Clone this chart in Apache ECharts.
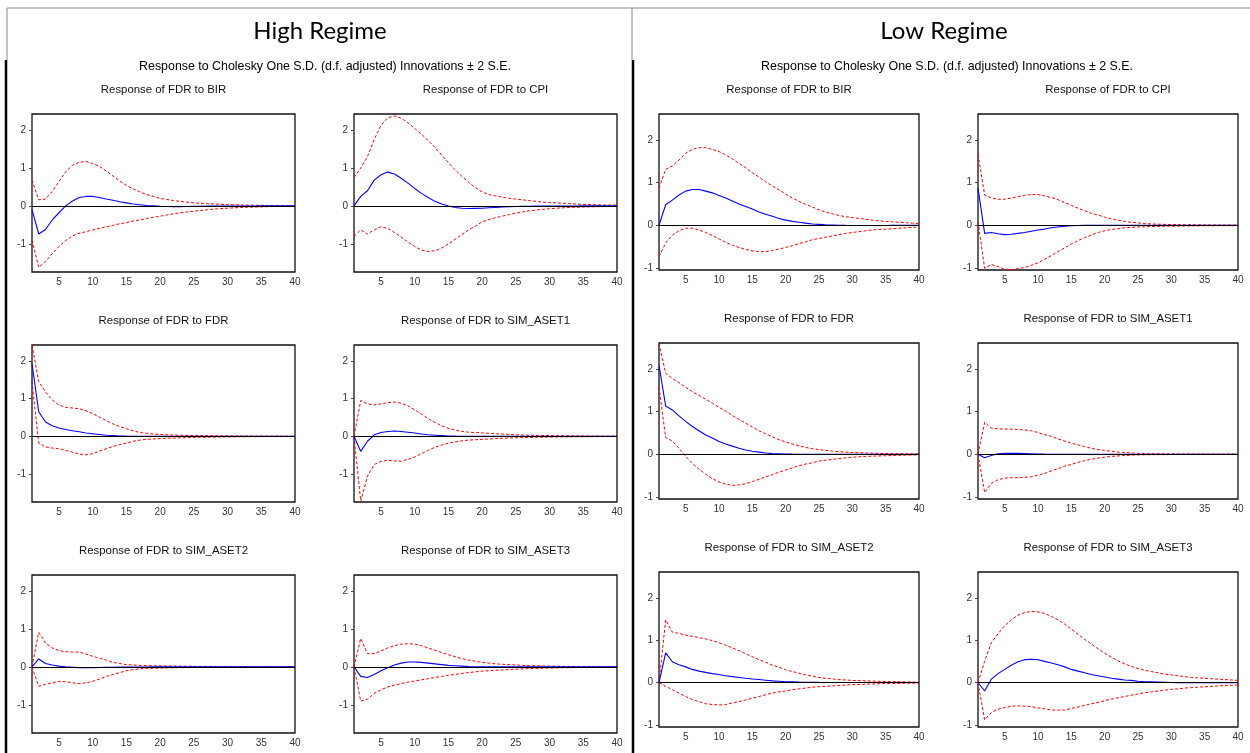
<!DOCTYPE html>
<html>
<head>
<meta charset="utf-8">
<script src="https://cdn.jsdelivr.net/npm/echarts@6/dist/echarts.min.js"></script>
<style>
html, body { margin: 0; padding: 0; background: #fff; }
#irf { width: 1250px; height: 753px; }
</style>
</head>
<body>
<div id="irf"></div>
<script>
// periods of the impulse responses
var periods = [1,2,3,4,5,6,7,8,9,10,11,12,13,14,15,16,17,18,19,20,21,22,23,24,25,26,27,28,29,30,31,32,33,34,35,36,37,38,39,40];
var xTicks = [5,10,15,20,25,30,35,40];
var yTicks = [-1,0,1,2];

// High regime
var hiBirResp = [-0.1,-0.74,-0.62,-0.37,-0.18,0,0.13,0.22,0.25,0.25,0.22,0.18,0.15,0.11,0.08,0.05,0.03,0.01,0,-0.01,-0.015,-0.02,-0.02,-0.015,-0.01,-0.008,-0.006,-0.005,-0.004,-0.003,-0.002,-0.002,-0.001,-0.001,0,0,0,0,0,0];
var hiBirUp = [0.68,0.16,0.18,0.38,0.64,0.9,1.07,1.15,1.17,1.12,1.04,0.92,0.79,0.66,0.54,0.45,0.37,0.3,0.25,0.2,0.17,0.14,0.12,0.1,0.08,0.07,0.06,0.05,0.04,0.035,0.03,0.025,0.02,0.018,0.015,0.012,0.01,0.008,0.006,0.005];
var hiBirLo = [-0.9,-1.62,-1.46,-1.26,-1.07,-0.91,-0.79,-0.72,-0.68,-0.63,-0.59,-0.55,-0.51,-0.47,-0.44,-0.4,-0.37,-0.33,-0.3,-0.27,-0.24,-0.21,-0.18,-0.16,-0.14,-0.12,-0.1,-0.085,-0.07,-0.06,-0.05,-0.04,-0.035,-0.03,-0.025,-0.02,-0.015,-0.012,-0.01,-0.008];

var hiCpiResp = [0,0.25,0.4,0.68,0.82,0.89,0.84,0.73,0.6,0.46,0.33,0.22,0.12,0.05,0,-0.04,-0.06,-0.07,-0.065,-0.06,-0.05,-0.04,-0.03,-0.02,-0.015,-0.01,-0.008,-0.006,-0.004,-0.003,-0.002,-0.002,-0.001,-0.001,0,0,0,0,0,0];
var hiCpiUp = [0.75,1.0,1.3,1.75,2.12,2.32,2.37,2.31,2.19,2.04,1.89,1.72,1.54,1.34,1.14,0.95,0.78,0.62,0.48,0.37,0.3,0.26,0.23,0.2,0.18,0.16,0.14,0.12,0.1,0.09,0.08,0.07,0.06,0.05,0.04,0.035,0.03,0.025,0.02,0.02];
var hiCpiLo = [-0.8,-0.63,-0.74,-0.63,-0.55,-0.59,-0.7,-0.82,-0.95,-1.07,-1.16,-1.2,-1.18,-1.11,-1.0,-0.88,-0.75,-0.63,-0.53,-0.42,-0.36,-0.31,-0.27,-0.23,-0.19,-0.16,-0.13,-0.11,-0.09,-0.075,-0.06,-0.05,-0.04,-0.035,-0.03,-0.025,-0.02,-0.018,-0.015,-0.013];

var hiFdrResp = [1.93,0.65,0.38,0.28,0.22,0.18,0.15,0.12,0.09,0.07,0.05,0.03,0.02,0.01,0.005,0.002,0,0,0,0,0,0,0,0,0,0,0,0,0,0,0,0,0,0,0,0,0,0,0,0];
var hiFdrUp = [2.42,1.45,1.18,0.96,0.83,0.77,0.75,0.73,0.68,0.6,0.51,0.42,0.33,0.26,0.2,0.15,0.1,0.08,0.06,0.05,0.04,0.035,0.03,0.025,0.02,0.018,0.016,0.014,0.012,0.01,0.009,0.008,0.007,0.006,0.006,0.005,0.005,0.004,0.004,0.003];
var hiFdrLo = [1.45,-0.18,-0.28,-0.31,-0.33,-0.37,-0.42,-0.47,-0.49,-0.46,-0.39,-0.33,-0.27,-0.22,-0.18,-0.13,-0.1,-0.08,-0.07,-0.06,-0.05,-0.045,-0.04,-0.035,-0.03,-0.025,-0.022,-0.019,-0.016,-0.014,-0.012,-0.01,-0.009,-0.008,-0.007,-0.006,-0.006,-0.005,-0.005,-0.004];

var hiAs1Resp = [0,-0.4,-0.13,0.04,0.1,0.13,0.14,0.13,0.11,0.09,0.06,0.04,0.03,0.02,0.01,0.005,0.002,0,0,0,0,0,0,0,0,0,0,0,0,0,0,0,0,0,0,0,0,0,0,0];
var hiAs1Up = [0,0.95,0.86,0.83,0.86,0.89,0.91,0.88,0.81,0.7,0.59,0.47,0.37,0.28,0.21,0.17,0.13,0.11,0.1,0.09,0.08,0.07,0.06,0.05,0.04,0.035,0.03,0.026,0.022,0.019,0.016,0.014,0.012,0.01,0.009,0.008,0.007,0.006,0.005,0.005];
var hiAs1Lo = [0,-1.72,-1.05,-0.75,-0.66,-0.64,-0.65,-0.66,-0.61,-0.55,-0.46,-0.37,-0.29,-0.23,-0.18,-0.15,-0.12,-0.1,-0.09,-0.08,-0.07,-0.06,-0.05,-0.045,-0.04,-0.035,-0.03,-0.026,-0.022,-0.019,-0.016,-0.014,-0.012,-0.01,-0.009,-0.008,-0.007,-0.006,-0.005,-0.005];

var hiAs2Resp = [0,0.21,0.09,0.05,0.02,0,-0.01,-0.02,-0.02,-0.02,-0.015,-0.01,-0.008,-0.006,-0.004,-0.003,-0.002,-0.001,0,0,0,0,0,0,0,0,0,0,0,0,0,0,0,0,0,0,0,0,0,0];
var hiAs2Up = [0,0.91,0.63,0.5,0.43,0.4,0.39,0.39,0.34,0.28,0.23,0.18,0.12,0.09,0.06,0.05,0.04,0.035,0.03,0.03,0.025,0.022,0.02,0.018,0.016,0.014,0.012,0.011,0.01,0.009,0.008,0.007,0.006,0.006,0.005,0.005,0.004,0.004,0.003,0.003];
var hiAs2Lo = [0,-0.51,-0.46,-0.42,-0.38,-0.39,-0.42,-0.44,-0.42,-0.38,-0.32,-0.25,-0.2,-0.15,-0.1,-0.07,-0.05,-0.04,-0.035,-0.03,-0.025,-0.022,-0.02,-0.018,-0.016,-0.014,-0.012,-0.011,-0.01,-0.009,-0.008,-0.007,-0.006,-0.006,-0.005,-0.005,-0.004,-0.004,-0.003,-0.003];

var hiAs3Resp = [0,-0.25,-0.28,-0.2,-0.1,-0.02,0.05,0.1,0.13,0.13,0.12,0.1,0.08,0.06,0.04,0.03,0.02,0.01,0.005,0.002,0,0,0,0,0,0,0,0,0,0,0,0,0,0,0,0,0,0,0,0];
var hiAs3Up = [0,0.75,0.35,0.35,0.42,0.5,0.56,0.6,0.61,0.6,0.56,0.5,0.44,0.38,0.32,0.27,0.22,0.18,0.15,0.12,0.1,0.08,0.07,0.06,0.05,0.04,0.035,0.03,0.025,0.02,0.018,0.015,0.013,0.011,0.01,0.009,0.008,0.007,0.006,0.005];
var hiAs3Lo = [0,-0.9,-0.85,-0.7,-0.6,-0.53,-0.48,-0.44,-0.4,-0.37,-0.34,-0.31,-0.28,-0.25,-0.22,-0.2,-0.17,-0.15,-0.13,-0.11,-0.1,-0.09,-0.08,-0.07,-0.06,-0.05,-0.045,-0.04,-0.035,-0.03,-0.026,-0.022,-0.019,-0.016,-0.014,-0.012,-0.01,-0.009,-0.008,-0.007];

// Low regime
var loBirResp = [0,0.48,0.59,0.71,0.8,0.84,0.84,0.8,0.76,0.7,0.64,0.57,0.5,0.44,0.38,0.31,0.26,0.21,0.16,0.12,0.09,0.07,0.05,0.03,0.02,0.01,0.005,0,-0.003,-0.005,-0.006,-0.006,-0.006,-0.005,-0.005,-0.004,-0.003,-0.003,-0.002,-0.002];
var loBirUp = [0.87,1.31,1.39,1.53,1.69,1.78,1.82,1.82,1.78,1.73,1.65,1.56,1.45,1.35,1.23,1.13,1.02,0.92,0.83,0.73,0.64,0.56,0.49,0.43,0.36,0.31,0.27,0.23,0.2,0.18,0.16,0.14,0.12,0.1,0.09,0.08,0.07,0.06,0.05,0.04];
var loBirLo = [-0.73,-0.42,-0.23,-0.13,-0.07,-0.07,-0.11,-0.17,-0.24,-0.32,-0.4,-0.47,-0.52,-0.57,-0.6,-0.62,-0.62,-0.59,-0.56,-0.52,-0.48,-0.43,-0.39,-0.34,-0.31,-0.28,-0.25,-0.22,-0.19,-0.17,-0.15,-0.13,-0.11,-0.1,-0.09,-0.08,-0.07,-0.06,-0.05,-0.04];

var loCpiResp = [0.87,-0.19,-0.17,-0.2,-0.22,-0.21,-0.19,-0.17,-0.14,-0.11,-0.09,-0.06,-0.04,-0.02,-0.01,-0.005,-0.002,0,0,0,0,0,0,0,0,0,0,0,0,0,0,0,0,0,0,0,0,0,0,0];
var loCpiUp = [1.66,0.71,0.64,0.61,0.61,0.64,0.67,0.7,0.72,0.72,0.69,0.65,0.6,0.53,0.47,0.4,0.34,0.28,0.24,0.19,0.15,0.12,0.09,0.07,0.055,0.04,0.03,0.025,0.02,0.015,0.013,0.011,0.01,0.009,0.008,0.007,0.006,0.006,0.005,0.005];
var loCpiLo = [0.08,-1.01,-0.92,-0.97,-1.03,-1.04,-1.02,-0.99,-0.94,-0.88,-0.8,-0.71,-0.62,-0.53,-0.44,-0.36,-0.29,-0.23,-0.17,-0.13,-0.1,-0.08,-0.06,-0.05,-0.04,-0.035,-0.03,-0.026,-0.023,-0.02,-0.018,-0.016,-0.014,-0.013,-0.012,-0.011,-0.01,-0.01,-0.01,-0.01];

var loFdrResp = [2.09,1.13,1.04,0.9,0.77,0.65,0.55,0.45,0.38,0.3,0.24,0.19,0.14,0.1,0.07,0.05,0.03,0.015,0.01,0.005,0.002,0,0,0,0,0,0,0,0,0,0,0,0,0,0,0,0,0,0,0];
var loFdrUp = [2.6,1.9,1.78,1.68,1.57,1.47,1.38,1.29,1.2,1.1,1.01,0.91,0.82,0.73,0.64,0.55,0.48,0.41,0.34,0.29,0.24,0.2,0.16,0.13,0.11,0.09,0.075,0.06,0.05,0.04,0.035,0.03,0.025,0.02,0.018,0.015,0.012,0.01,0.01,0.008];
var loFdrLo = [1.58,0.39,0.31,0.14,-0.05,-0.21,-0.35,-0.47,-0.57,-0.65,-0.7,-0.73,-0.72,-0.69,-0.64,-0.59,-0.53,-0.48,-0.42,-0.37,-0.32,-0.27,-0.23,-0.2,-0.16,-0.14,-0.12,-0.1,-0.085,-0.07,-0.06,-0.05,-0.045,-0.04,-0.035,-0.03,-0.025,-0.02,-0.018,-0.015];

var loAs1Resp = [0,-0.08,-0.03,0.01,0.02,0.02,0.02,0.015,0.01,0.005,0.002,0,0,0,0,0,0,0,0,0,0,0,0,0,0,0,0,0,0,0,0,0,0,0,0,0,0,0,0,0];
var loAs1Up = [0,0.75,0.61,0.6,0.59,0.59,0.58,0.57,0.55,0.51,0.46,0.42,0.36,0.31,0.26,0.22,0.18,0.14,0.11,0.09,0.07,0.05,0.04,0.03,0.02,0.015,0.012,0.01,0.009,0.008,0.007,0.006,0.005,0.005,0.004,0.004,0.003,0.003,0.003,0.003];
var loAs1Lo = [0,-0.9,-0.68,-0.6,-0.56,-0.55,-0.55,-0.54,-0.53,-0.49,-0.45,-0.39,-0.34,-0.28,-0.24,-0.19,-0.15,-0.12,-0.09,-0.07,-0.05,-0.04,-0.03,-0.02,-0.015,-0.012,-0.01,-0.009,-0.008,-0.007,-0.006,-0.005,-0.005,-0.004,-0.004,-0.003,-0.003,-0.003,-0.003,-0.003];

var loAs2Resp = [0,0.7,0.49,0.42,0.37,0.31,0.27,0.24,0.21,0.19,0.16,0.14,0.12,0.1,0.085,0.07,0.055,0.04,0.03,0.02,0.015,0.01,0.007,0.005,0.003,0.002,0.001,0,0,0,0,0,0,0,0,0,0,0,0,0];
var loAs2Up = [0,1.48,1.19,1.16,1.12,1.09,1.06,1.03,0.99,0.94,0.88,0.82,0.75,0.68,0.61,0.54,0.48,0.41,0.36,0.3,0.26,0.22,0.18,0.15,0.12,0.1,0.085,0.07,0.06,0.05,0.045,0.04,0.035,0.03,0.025,0.02,0.018,0.015,0.012,0.01];
var loAs2Lo = [0,-0.09,-0.17,-0.25,-0.33,-0.4,-0.45,-0.5,-0.52,-0.53,-0.52,-0.48,-0.45,-0.41,-0.37,-0.33,-0.29,-0.25,-0.22,-0.2,-0.17,-0.15,-0.13,-0.11,-0.1,-0.09,-0.08,-0.07,-0.06,-0.05,-0.045,-0.04,-0.035,-0.03,-0.025,-0.022,-0.02,-0.018,-0.015,-0.013];

var loAs3Resp = [0,-0.2,0.08,0.21,0.31,0.41,0.49,0.54,0.55,0.54,0.5,0.46,0.42,0.37,0.31,0.27,0.23,0.19,0.16,0.13,0.1,0.08,0.06,0.05,0.03,0.02,0.015,0.01,0.005,0,-0.002,-0.004,-0.005,-0.006,-0.006,-0.006,-0.006,-0.005,-0.005,-0.005];
var loAs3Up = [0,0.5,0.94,1.15,1.34,1.48,1.59,1.65,1.68,1.67,1.63,1.56,1.48,1.38,1.26,1.14,1.02,0.91,0.8,0.69,0.6,0.51,0.44,0.38,0.33,0.29,0.26,0.23,0.2,0.18,0.16,0.14,0.12,0.11,0.1,0.09,0.08,0.07,0.06,0.05];
var loAs3Lo = [0,-0.88,-0.71,-0.63,-0.59,-0.56,-0.55,-0.56,-0.57,-0.6,-0.62,-0.65,-0.65,-0.65,-0.61,-0.58,-0.54,-0.5,-0.47,-0.43,-0.39,-0.36,-0.33,-0.3,-0.27,-0.24,-0.22,-0.2,-0.18,-0.16,-0.15,-0.13,-0.12,-0.11,-0.1,-0.09,-0.08,-0.07,-0.065,-0.06];

var hiRange = [-1.74, 2.42];
var loRange = [-1.05, 2.61];

// one entry per small plot: where it sits and what it shows
var plots = [
    { title: 'Response of FDR to BIR', x: 32, y: 114, w: 263, h: 158, r: hiRange, d: [hiBirResp, hiBirUp, hiBirLo] },
    { title: 'Response of FDR to CPI', x: 354, y: 114, w: 263, h: 158, r: hiRange, d: [hiCpiResp, hiCpiUp, hiCpiLo] },
    { title: 'Response of FDR to FDR', x: 32, y: 345, w: 263, h: 157, r: hiRange, d: [hiFdrResp, hiFdrUp, hiFdrLo] },
    { title: 'Response of FDR to SIM_ASET1', x: 354, y: 345, w: 263, h: 157, r: hiRange, d: [hiAs1Resp, hiAs1Up, hiAs1Lo] },
    { title: 'Response of FDR to SIM_ASET2', x: 32, y: 575, w: 263, h: 158, r: hiRange, d: [hiAs2Resp, hiAs2Up, hiAs2Lo] },
    { title: 'Response of FDR to SIM_ASET3', x: 354, y: 575, w: 263, h: 158, r: hiRange, d: [hiAs3Resp, hiAs3Up, hiAs3Lo] },
    { title: 'Response of FDR to BIR', x: 659, y: 114, w: 260, h: 156, r: loRange, d: [loBirResp, loBirUp, loBirLo] },
    { title: 'Response of FDR to CPI', x: 978, y: 114, w: 260, h: 156, r: loRange, d: [loCpiResp, loCpiUp, loCpiLo] },
    { title: 'Response of FDR to FDR', x: 659, y: 343, w: 260, h: 156, r: loRange, d: [loFdrResp, loFdrUp, loFdrLo] },
    { title: 'Response of FDR to SIM_ASET1', x: 978, y: 343, w: 260, h: 156, r: loRange, d: [loAs1Resp, loAs1Up, loAs1Lo] },
    { title: 'Response of FDR to SIM_ASET2', x: 659, y: 572, w: 260, h: 155, r: loRange, d: [loAs2Resp, loAs2Up, loAs2Lo] },
    { title: 'Response of FDR to SIM_ASET3', x: 978, y: 572, w: 260, h: 155, r: loRange, d: [loAs3Resp, loAs3Up, loAs3Lo] }
];

function pairs(vals) {
    return periods.map(function (p, i) { return [p, vals[i]]; });
}

var labelFont = { fontFamily: 'Liberation Sans', fontSize: 10, color: '#333' };

var grids = [], xAxes = [], yAxes = [], series = [], texts = [];

plots.forEach(function (p, i) {
    grids.push({
        left: p.x, top: p.y, width: p.w, height: p.h,
        show: true, borderColor: '#111', borderWidth: 1.3, backgroundColor: '#fff'
    });
    xAxes.push({
        type: 'value', gridIndex: i, min: 1, max: 40,
        axisLine: { show: false }, axisTick: { show: false }, splitLine: { show: false },
        axisLabel: Object.assign({ customValues: xTicks, margin: 5 }, labelFont)
    });
    yAxes.push({
        type: 'value', gridIndex: i, min: p.r[0], max: p.r[1],
        axisLine: { show: false }, splitLine: { show: false },
        axisTick: { show: true, customValues: yTicks, length: 3, lineStyle: { color: '#444' } },
        axisLabel: Object.assign({ customValues: yTicks, margin: 6 }, labelFont)
    });
    series.push({
        type: 'line', xAxisIndex: i, yAxisIndex: i, data: pairs(p.d[1]),
        showSymbol: false, silent: true, z: 3,
        lineStyle: { color: '#ff0000', width: 1, type: [3, 2] }
    });
    series.push({
        type: 'line', xAxisIndex: i, yAxisIndex: i, data: pairs(p.d[2]),
        showSymbol: false, silent: true, z: 3,
        lineStyle: { color: '#ff0000', width: 1, type: [3, 2] }
    });
    series.push({
        type: 'line', xAxisIndex: i, yAxisIndex: i, data: pairs(p.d[0]),
        showSymbol: false, silent: true, z: 4,
        lineStyle: { color: '#0000ff', width: 1.1 },
        markLine: {
            silent: true, symbol: 'none', label: { show: false },
            lineStyle: { color: '#000', width: 1, type: 'solid' },
            data: [{ yAxis: 0 }]
        }
    });
    texts.push({
        type: 'text', x: p.x + p.w / 2, y: p.y - 24,
        style: { text: p.title, fontFamily: 'Liberation Sans', fontSize: 11.4, fill: '#111', textAlign: 'center', textVerticalAlign: 'middle' }
    });
});

var subTitle = 'Response to Cholesky One S.D. (d.f. adjusted) Innovations \u00b1 2 S.E.';

var frame = [
    { type: 'line', shape: { x1: 7, y1: 8, x2: 1250, y2: 8 }, style: { stroke: '#888', lineWidth: 1 } },
    { type: 'line', shape: { x1: 7, y1: 8, x2: 7, y2: 60 }, style: { stroke: '#888', lineWidth: 1 } },
    { type: 'line', shape: { x1: 6, y1: 60, x2: 6, y2: 753 }, style: { stroke: '#000', lineWidth: 2.5 } },
    { type: 'line', shape: { x1: 632, y1: 8, x2: 632, y2: 60 }, style: { stroke: '#888', lineWidth: 1 } },
    { type: 'line', shape: { x1: 633, y1: 60, x2: 633, y2: 753 }, style: { stroke: '#000', lineWidth: 2.5 } },
    { type: 'text', x: 320, y: 31, style: { text: 'High Regime', fontFamily: 'Lato', fontSize: 24, fill: '#000', textAlign: 'center', textVerticalAlign: 'middle' } },
    { type: 'text', x: 944, y: 31, style: { text: 'Low Regime', fontFamily: 'Lato', fontSize: 24, fill: '#000', textAlign: 'center', textVerticalAlign: 'middle' } },
    { type: 'text', x: 325, y: 67, style: { text: subTitle, fontFamily: 'Liberation Sans', fontSize: 12.4, fill: '#000', textAlign: 'center', textVerticalAlign: 'middle' } },
    { type: 'text', x: 947, y: 67, style: { text: subTitle, fontFamily: 'Liberation Sans', fontSize: 12.4, fill: '#000', textAlign: 'center', textVerticalAlign: 'middle' } }
];

var chart = echarts.init(document.getElementById('irf'));
chart.setOption({
    animation: false,
    backgroundColor: '#fff',
    grid: grids,
    xAxis: xAxes,
    yAxis: yAxes,
    series: series,
    graphic: frame.concat(texts)
});
</script>
</body>
</html>
